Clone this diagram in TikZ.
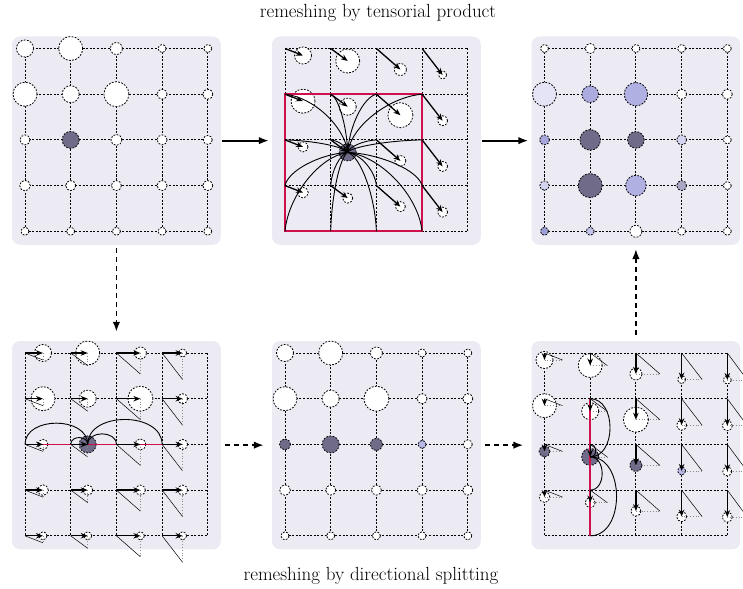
\documentclass[tikz,border=0pt]{standalone}
\usetikzlibrary{arrows.meta,calc}
\definecolor{bgc}{RGB}{236,235,243}
\definecolor{cD}{RGB}{111,107,136}
\definecolor{cW}{RGB}{255,255,255}
\definecolor{cPa}{RGB}{171,171,223}
\definecolor{cPb}{RGB}{176,176,226}
\definecolor{cPvl}{RGB}{228,228,246}
\definecolor{cPm}{RGB}{166,166,218}
\definecolor{cPl}{RGB}{212,212,240}
\definecolor{cPg}{RGB}{168,168,196}
\definecolor{cPq}{RGB}{160,160,216}
\definecolor{cPr}{RGB}{196,196,234}
\definecolor{cPc}{RGB}{184,184,232}
\definecolor{redl}{RGB}{208,16,76}
\tikzset{
 panelbg/.style={fill=bgc, rounded corners=8pt, minimum width=208.8pt, minimum height=208.3pt, inner sep=0pt, draw=none},
 gridl/.style={line width=0.9pt, dash pattern=on 2pt off 1.6pt},
 ptcl/.style={circle, inner sep=0pt, draw, line width=0.8pt, dash pattern=on 1.8pt off 1.4pt},
 mv/.style={-{Stealth[length=7pt,width=5.5pt]}, line width=1.3pt},
 conn/.style={-{Latex[length=10pt,width=7.5pt]}, line width=1.8pt},
 dconn/.style={conn, dash pattern=on 5pt off 4pt},
 diag/.style={line width=0.5pt},
 proj/.style={line width=0.8pt, black!45, dotted},
 kern/.style={line width=0.9pt},
 support/.style={draw=redl, line width=1.8pt},
 lab/.style={font=\fontsize{19}{21}\selectfont},
}
\def\dataA{0/{8.5/cW,12/cW,6/cW,4/cW,4/cW},1/{12/cW,8.5/cW,12.5/cW,5/cW,5/cW},2/{5/cW,8.5/cD,5.5/cW,5/cW,4.5/cW},3/{5.3/cW,5/cW,5/cW,5/cW,5/cW},4/{4/cW,4/cW,4/cW,4/cW,4/cW}}
\def\dataE{0/{8.5/cW,12/cW,6/cW,4/cW,4/cW},1/{12/cW,8.5/cW,12.5/cW,5/cW,5/cW},2/{5.5/cD,8.5/cD,6/cD,4/cPc,4.5/cW},3/{5.3/cW,5/cW,5/cW,5/cW,5/cW},4/{4/cW,4/cW,4/cW,4/cW,4/cW}}
\def\dataC{0/{4/cW,5/cW,4/cW,4/cW,4/cW},1/{12/cPvl,8.3/cPa,11.7/cPb,5/cW,5/cW},2/{5/cPm,10.3/cD,8.3/cD,5/cPl,4/cW},3/{4.7/cPl,12/cD,10.3/cPb,5/cPg,4/cW},4/{4/cPq,4/cPr,6/cW,4/cW,4/cW}}
\def\dxl{{18,17,24,20.5,20}}
\def\dyl{{7,12.5,21,26.5,27}}
\def\sp{45.7}
\newcommand\mkgrid[3]{%
  \foreach \i in {0,...,4} {\foreach \j in {0,...,4} {\coordinate (g#1-\i-\j) at ({#2+\i*\sp},{#3+\j*\sp});}}
  \foreach \k in {0,...,4} {
    \draw[gridl] (g#1-\k-0) -- (g#1-\k-4);
    \draw[gridl] (g#1-0-\k) -- (g#1-4-\k);
  }}
\newcommand\placeparts[5]{%
 \foreach \j/\row in #2 {
  \foreach \rr/\cc [count=\ii from 0] in \row {
   \ifnum\ii>#3\relax\else\ifnum\j>#4\relax\else
    \pgfmathsetmacro\ddx{\dxl[\ii]}\pgfmathsetmacro\ddy{\dyl[\ii]}
    \ifcase#5 \def\sx{0}\def\sy{0}\or\let\sx\ddx\let\sy\ddy\or\let\sx\ddx\def\sy{0}\or\def\sx{0}\let\sy\ddy\fi
    \node[ptcl, fill=\cc, minimum size={2*\rr*1pt}] (#1-\ii-\j) at ([shift={(\sx,\sy)}]g#1-\ii-\j) {};
    \coordinate (t#1-\ii-\j) at ([shift={(\ddx,\ddy)}]g#1-\ii-\j);
   \fi\fi
  }}}
\begin{document}
\begin{tikzpicture}[x=1pt,y=-1pt]
\useasboundingbox (0,0) rectangle (743,588);
% panel backgrounds
\node[panelbg] (P1) at (116.4,140.65) {};
\node[panelbg] (P2) at (376.4,140.65) {};
\node[panelbg] (P3) at (635.9,140.65) {};
\node[panelbg] (P4) at (116.4,445.15) {};
\node[panelbg] (P5) at (376.4,445.15) {};
\node[panelbg] (P6) at (635.9,445.15) {};
% grids
\mkgrid{A}{25}{48.5}
\mkgrid{B}{285}{48.5}
\mkgrid{C}{544.5}{48.5}
\mkgrid{D}{25}{353}
\mkgrid{E}{285}{353}
\mkgrid{F}{544.5}{353}
% particles
\placeparts{A}{\dataA}{4}{4}{0}
\placeparts{B}{\dataA}{3}{3}{1}
\placeparts{C}{\dataC}{4}{4}{0}
\placeparts{D}{\dataA}{3}{4}{2}
\placeparts{E}{\dataE}{4}{4}{0}
\placeparts{F}{\dataE}{4}{3}{3}
% panel 2: support and kernel
\draw[support] (gB-0-1) rectangle (gB-3-4);
\foreach \i in {0,...,3} {\foreach \j in {1,...,4} {
 \pgfmathsetmacro\Dx{(\i-1)*\sp-17}
 \pgfmathsetmacro\Dy{(\j-2)*\sp-12.5}
 \ifdim\Dy pt>0pt
  \draw[kern] (B-1-2.center) .. controls +({0.45*\Dx},{0.05*\Dy}) and +({-0.05*\Dx},{-0.45*\Dy}) .. (gB-\i-\j);
 \else
  \draw[kern] (B-1-2.center) .. controls +({0.05*\Dx},{0.45*\Dy}) and +({-0.45*\Dx},{-0.05*\Dy}) .. (gB-\i-\j);
 \fi
}}
\foreach \i in {0,...,3} {\foreach \j in {0,...,3} {\draw[mv] (gB-\i-\j) -- (B-\i-\j.center);}}
% panel 4
\foreach \i in {0,...,3} {\foreach \j in {0,...,4} {
 \draw[diag] (gD-\i-\j) -- (tD-\i-\j);
 \draw[proj] (D-\i-\j.center) -- (tD-\i-\j);}}
\draw[support] (gD-0-2) -- (gD-3-2);
\foreach \i in {0,...,3} {
 \pgfmathsetmacro\hh{0.42*abs((\i-1)*\sp-17)+2}
 \draw[kern] (D-1-2.center) .. controls +(0,-\hh) and +(0,-\hh) .. (gD-\i-2);
}
\foreach \i in {0,...,3} {\foreach \j in {0,...,4} {\draw[mv] (gD-\i-\j) -- (D-\i-\j.center);}}
% panel 6
\foreach \i in {0,...,4} {\foreach \j in {0,...,3} {
 \draw[diag] (gF-\i-\j) -- (tF-\i-\j);
 \draw[proj] (F-\i-\j.center) -- (tF-\i-\j);}}
\draw[support] (gF-1-1) -- (gF-1-4);
\foreach \j in {1,...,4} {
 \pgfmathsetmacro\hh{0.42*abs((\j-2)*\sp-12.5)+2}
 \draw[kern] (F-1-2.center) .. controls +(\hh,0) and +(\hh,0) .. (gF-1-\j);
}
\foreach \i in {0,...,4} {\foreach \j in {0,...,3} {\draw[mv] (gF-\i-\j) -- (F-\i-\j.center);}}
% connectors between panels
\draw[conn, shorten <=1pt, shorten >=3pt] (P1.east) -- (P2.west);
\draw[conn, shorten <=1pt, shorten >=3pt] (P2.east) -- (P3.west);
\draw[dconn, shorten <=3pt, shorten >=9pt] (P1.south) -- (P4.north);
\draw[dconn, shorten <=4pt, shorten >=8pt] (P4.east) -- (P5.west);
\draw[dconn, shorten <=4pt, shorten >=8pt] (P5.east) -- (P6.west);
\draw[dconn, shorten <=6pt, shorten >=4pt] (P6.north) -- (P3.south);
% labels
\node[lab] (title) at (378,13) {remeshing by tensorial product};
\node[lab] (subtitle) at (371,576) {remeshing by directional splitting};
\end{tikzpicture}
\end{document}
